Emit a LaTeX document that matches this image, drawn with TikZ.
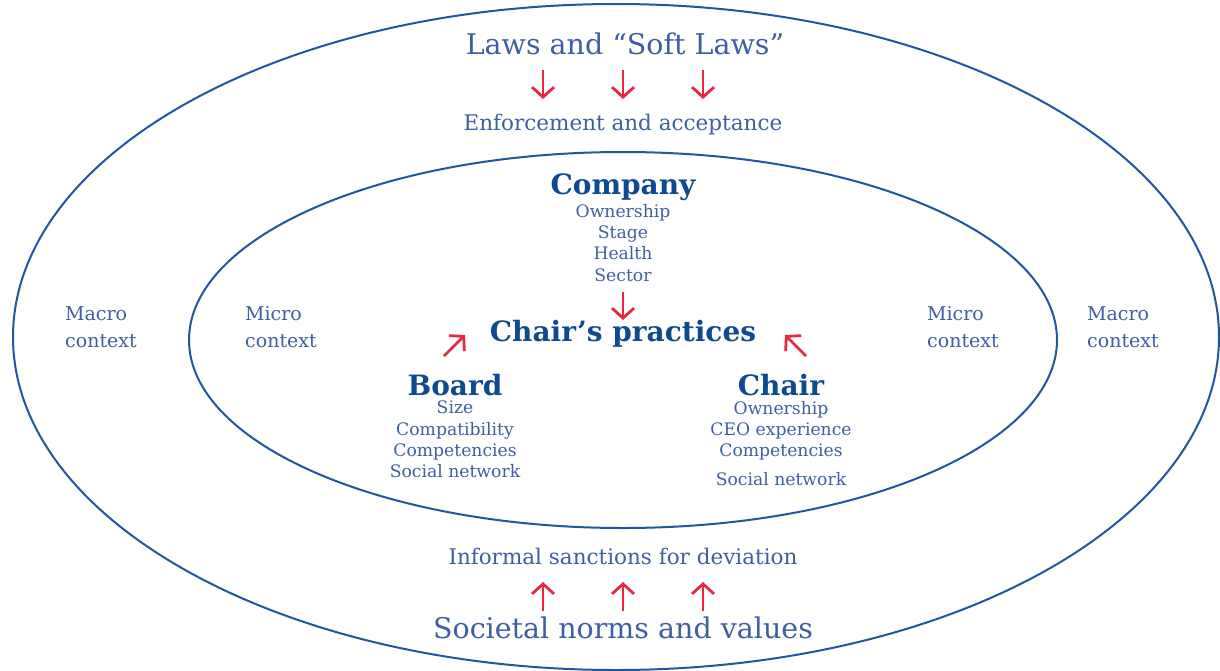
\documentclass[tikz,border=0pt]{standalone}
\usepackage{fontspec}
\setmainfont{DejaVu Serif}
\usetikzlibrary{arrows.meta}
\definecolor{ringblue}{HTML}{1F57A0}
\definecolor{txtblue}{HTML}{3E5FA3}
\definecolor{boldblue}{HTML}{0D4A92}
\definecolor{arrred}{HTML}{E8283F}
\tikzset{
  ring/.style={draw=ringblue, line width=2pt},
  big/.style={text=txtblue, font=\fontsize{28.5}{32}\selectfont, inner sep=0pt},
  mid/.style={text=txtblue, font=\fontsize{21.5}{24}\selectfont, inner sep=0pt},
  head/.style={text=boldblue, font=\bfseries\fontsize{28}{32}\selectfont, inner sep=0pt},
  item/.style={text=txtblue, font=\fontsize{17.2}{21.3}\selectfont, inner sep=0pt, align=center},
  ctx/.style={text=txtblue, font=\fontsize{19}{27}\selectfont, inner sep=0pt, align=left, anchor=west},
  redarrow/.style={draw=arrred, line width=2.8pt, -{Straight Barb[length=10pt,width=22pt]}}
}
\begin{document}
\begin{tikzpicture}[x=1pt,y=-1pt]
\useasboundingbox (0,0) rectangle (1220,670);
\fill[white] (0,0) rectangle (1220,670);
% rings
\draw[ring] (616,337) ellipse [x radius=603, y radius=333];
\draw[ring] (623,340) ellipse [x radius=434, y radius=188];
% outer texts
\node[big] (laws) at (625,44) {Laws and “Soft Laws”};
\node[mid] (enf) at (623,125) {Enforcement and acceptance};
\node[mid] (inf) at (623,556) {Informal sanctions for deviation};
\node[big] (soc) at (623,628) {Societal norms and values};
% red arrows top
\coordinate (t1s) at (543,70); \coordinate (t1e) at (543,99);
\coordinate (t2s) at (623,70); \coordinate (t2e) at (623,99);
\coordinate (t3s) at (703,70); \coordinate (t3e) at (703,99);
\draw[redarrow] (t1s) -- (t1e);
\draw[redarrow] (t2s) -- (t2e);
\draw[redarrow] (t3s) -- (t3e);
% red arrows bottom
\coordinate (b1s) at (543,611); \coordinate (b1e) at (543,582);
\coordinate (b2s) at (623,611); \coordinate (b2e) at (623,582);
\coordinate (b3s) at (703,611); \coordinate (b3e) at (703,582);
\draw[redarrow] (b1s) -- (b1e);
\draw[redarrow] (b2s) -- (b2e);
\draw[redarrow] (b3s) -- (b3e);
% company
\node[head] (company) at (623,187) {Company};
\node[item, anchor=north] (compitems) at (623,204) {Ownership\\Stage\\Health\\Sector};
\node[head] (practices) at (623,334) {Chair’s practices};
\coordinate (cs) at (623,292); \coordinate (ce) at (623,320);
\draw[redarrow] (cs) -- (ce);
% board
\node[head] (board) at (455,385) {Board};
\node[item, anchor=north] (boarditems) at (455,401) {Size\\Compatibility\\Competencies\\Social network};
\coordinate (bs) at (444,356); \coordinate (be) at (465,335);
\draw[redarrow] (bs) -- (be);
% chair
\node[head] (chair) at (781,385) {Chair};
\node[item, anchor=north] (chairitems) at (781,401) {Ownership\\CEO experience\\Competencies\\[0.45em]Social network};
\coordinate (hs) at (806,356); \coordinate (he) at (785,335);
\draw[redarrow] (hs) -- (he);
% context labels
\node[ctx] (macl) at (65,327) {Macro\\context};
\node[ctx] (micl) at (245,327) {Micro\\context};
\node[ctx] (micr) at (927,327) {Micro\\context};
\node[ctx] (macr) at (1087,327) {Macro\\context};
\end{tikzpicture}
\end{document}
